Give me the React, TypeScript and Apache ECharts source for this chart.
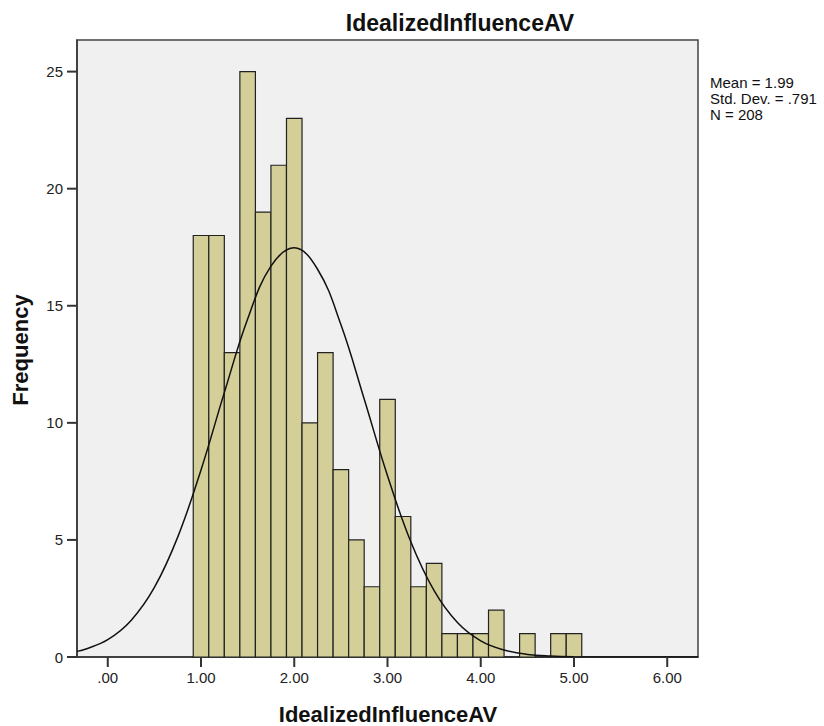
import React, { useEffect, useRef } from "react";
import * as echarts from "echarts";

// Histogram data
const binStart = 0.9167;
const binWidth = 1 / 6;
const counts = [18, 18, 13, 25, 19, 21, 23, 10, 13, 8, 5, 3, 11, 6, 3, 4, 1, 1, 1, 2, 0, 1, 0, 1, 1];

// Normal curve overlay
const curveX = [-0.33, -0.25, 0, 0.25, 0.5, 0.75, 1.0, 1.25, 1.5, 1.75, 2.0, 2.25, 2.5, 2.75, 3.0, 3.25, 3.5, 3.75, 4.0, 4.25, 4.5, 4.75, 5.0, 5.5, 6.0, 6.33];
const curveY = [0.24, 0.32, 0.74, 1.56, 2.97, 5.12, 7.99, 11.29, 14.43, 16.69, 17.48, 16.56, 14.2, 11.02, 7.74, 4.92, 2.83, 1.47, 0.69, 0.3, 0.11, 0.04, 0.013, 0.001, 0, 0];

const xTicks = [0, 1, 2, 3, 4, 5, 6];
const yTicks = [0, 5, 10, 15, 20, 25];

const statLines = ["Mean = 1.99", "Std. Dev. = .791", "N = 208"];
const titleText = "IdealizedInfluenceAV";
const xName = "IdealizedInfluenceAV";
const yName = "Frequency";

export default function App() {
  const ref = useRef<HTMLDivElement>(null);
  useEffect(() => {
    if (!ref.current) return;
    const chart = echarts.init(ref.current, null, { renderer: "svg" });
    const barData = counts.map((c, i) => [binStart + i * binWidth, binStart + (i + 1) * binWidth, c]);
    const font = "'Liberation Sans', Arial, sans-serif";
    const xMin = -0.33;
    const yMin = 0;
    const tickFill = "#333";
    chart.setOption({
      animation: false,
      backgroundColor: "#ffffff",
      grid: {
        left: 77,
        right: 126,
        top: 40,
        bottom: 69,
        show: true,
        backgroundColor: "#f0f0f0",
        borderColor: "#444",
        borderWidth: 1.5,
      },
      xAxis: {
        type: "value",
        min: xMin,
        max: 6.33,
        splitLine: { show: false },
        axisLine: { show: true, onZero: false, lineStyle: { color: "#333", width: 1.5 } },
        axisTick: { show: false },
        axisLabel: {
          customValues: xTicks,
          margin: 13,
          color: "#222",
          fontSize: 15,
          fontFamily: font,
          formatter: (v: number) => (v === 0 ? ".00" : v.toFixed(2)),
        },
      },
      yAxis: {
        type: "value",
        min: yMin,
        max: 26.35,
        splitLine: { show: false },
        axisLine: { show: true, onZero: false, lineStyle: { color: "#333", width: 1.5 } },
        axisTick: { show: false },
        axisLabel: {
          customValues: yTicks,
          margin: 14,
          color: "#222",
          fontSize: 15,
          fontFamily: font,
        },
      },
      series: [
        {
          type: "custom",
          data: barData,
          encode: { x: [0, 1], y: 2 },
          renderItem: (params: any, api: any) => {
            const p0 = api.coord([api.value(0), api.value(2)]);
            const p1 = api.coord([api.value(1), 0]);
            return {
              type: "rect",
              shape: { x: p0[0], y: p0[1], width: p1[0] - p0[0], height: p1[1] - p0[1] },
              style: { fill: "#d4cf99", stroke: "#222", lineWidth: 1.2 },
            };
          },
          z: 2,
        },
        {
          type: "line",
          data: curveX.map((x, i) => [x, curveY[i]]),
          smooth: 0.4,
          showSymbol: false,
          symbol: "none",
          lineStyle: { color: "#111", width: 1.5 },
          z: 3,
        },
        {
          type: "custom",
          clip: false,
          silent: true,
          data: xTicks.map((v) => [v, yMin]),
          encode: { x: 0, y: 1 },
          renderItem: (params: any, api: any) => {
            const p = api.coord([api.value(0), yMin]);
            return {
              type: "rect",
              shape: { x: p[0] - 1, y: p[1], width: 2, height: 10 },
              style: { fill: tickFill },
            };
          },
          z: 10,
        },
        {
          type: "custom",
          clip: false,
          silent: true,
          data: yTicks.map((v) => [xMin, v]),
          encode: { x: 0, y: 1 },
          renderItem: (params: any, api: any) => {
            const p = api.coord([xMin, api.value(1)]);
            return {
              type: "rect",
              shape: { x: p[0] - 10, y: p[1] - 1, width: 10, height: 2 },
              style: { fill: tickFill },
            };
          },
          z: 10,
        },
      ],
      graphic: [
        {
          type: "text",
          x: 460,
          y: 23,
          style: { text: titleText, fill: "#111", font: `bold 23px ${font}`, align: "center", verticalAlign: "middle" },
        },
        {
          type: "text",
          x: 388,
          y: 714,
          style: { text: xName, fill: "#111", font: `bold 22px ${font}`, align: "center", verticalAlign: "middle" },
        },
        {
          type: "text",
          x: 20,
          y: 350,
          rotation: Math.PI / 2,
          style: { text: yName, fill: "#111", font: `bold 22px ${font}`, align: "center", verticalAlign: "middle" },
        },
        {
          type: "text",
          x: 710,
          y: 74,
          style: {
            text: statLines.join("\n"),
            fill: "#111",
            font: `15px ${font}`,
            lineHeight: 16,
            align: "left",
            verticalAlign: "top",
          },
        },
      ],
    });
    return () => chart.dispose();
  }, []);
  return <div ref={ref} style={{ position: "fixed", left: 0, top: 0, width: 824, height: 726 }} />;
}
